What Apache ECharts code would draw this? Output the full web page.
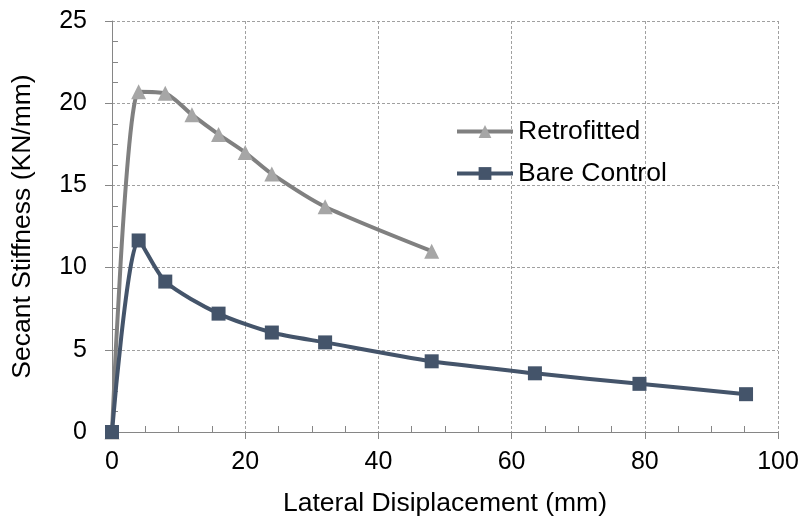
<!DOCTYPE html>
<html>
<head>
<meta charset="utf-8">
<script src="https://cdn.jsdelivr.net/npm/echarts@6/dist/echarts.min.js"></script>
<style>
  html, body { margin: 0; padding: 0; background: #fff; }
  #chart { width: 802px; height: 522px; }
</style>
</head>
<body>
<div id="chart"></div>
<script>
  // values
  const retrofittedX = [0, 4, 8, 12, 16, 20, 24, 32, 48];
  const retrofittedY = [0, 20.7, 20.6, 19.3, 18.1, 17.0, 15.7, 13.7, 11.0];
  const bareX = [0, 4, 8, 16, 24, 32, 48, 63.5, 79.2, 95.2];
  const bareY = [0, 11.65, 9.15, 7.2, 6.05, 5.45, 4.3, 3.57, 2.93, 2.3];

  const pairs = (xs, ys) => xs.map((x, i) => [x, ys[i]]);
  const font = '"Liberation Sans", Arial, sans-serif';

  const axisCommon = {
    axisLine: { lineStyle: { color: '#868686', width: 1 } },
    axisTick: { show: true, inside: false, length: 7, lineStyle: { color: '#868686' } },
    minorTick: { show: true, splitNumber: 4, length: -6, lineStyle: { color: '#868686' } },
    splitLine: { show: true, lineStyle: { color: '#a0a0a0', type: [3, 2], width: 1 } },
    axisLabel: { color: '#000', fontSize: 25, fontFamily: font },
    nameTextStyle: { color: '#000', fontSize: 26.5, fontFamily: font }
  };

  const chart = echarts.init(document.getElementById('chart'));
  chart.setOption({
    animation: false,
    backgroundColor: '#fff',
    grid: { left: 112, right: 24, top: 21, bottom: 88, containLabel: false },
    legend: {
      orient: 'vertical',
      left: 450,
      top: 113,
      itemWidth: 56,
      itemHeight: 16,
      itemGap: 15,
      lineStyle: { width: 4 },
      textStyle: { color: '#000', fontSize: 26.5, fontFamily: font },
      data: ['Retrofitted', 'Bare Control']
    },
    xAxis: Object.assign({}, axisCommon, {
      type: 'value',
      min: 0,
      max: 100,
      interval: 20,
      name: 'Lateral Disiplacement (mm)',
      nameLocation: 'middle',
      nameGap: 58,
      axisLabel: Object.assign({}, axisCommon.axisLabel, { margin: 18 })
    }),
    yAxis: Object.assign({}, axisCommon, {
      type: 'value',
      min: 0,
      max: 25,
      interval: 5,
      name: 'Secant Stiffness (KN/mm)',
      nameLocation: 'middle',
      nameGap: 76,
      axisLabel: Object.assign({}, axisCommon.axisLabel, { margin: 25 })
    }),
    series: [
      {
        name: 'Retrofitted',
        type: 'line',
        smooth: 0.25,
        data: pairs(retrofittedX, retrofittedY),
        symbol: 'triangle',
        symbolSize: 15,
        lineStyle: { color: '#808080', width: 4 },
        itemStyle: { color: '#a6a6a6' },
        z: 2
      },
      {
        name: 'Bare Control',
        type: 'line',
        smooth: 0.25,
        data: pairs(bareX, bareY),
        symbol: 'rect',
        symbolSize: 14,
        lineStyle: { color: '#44546a', width: 4 },
        itemStyle: { color: '#44546a' },
        z: 3
      }
    ]
  });
</script>
</body>
</html>
